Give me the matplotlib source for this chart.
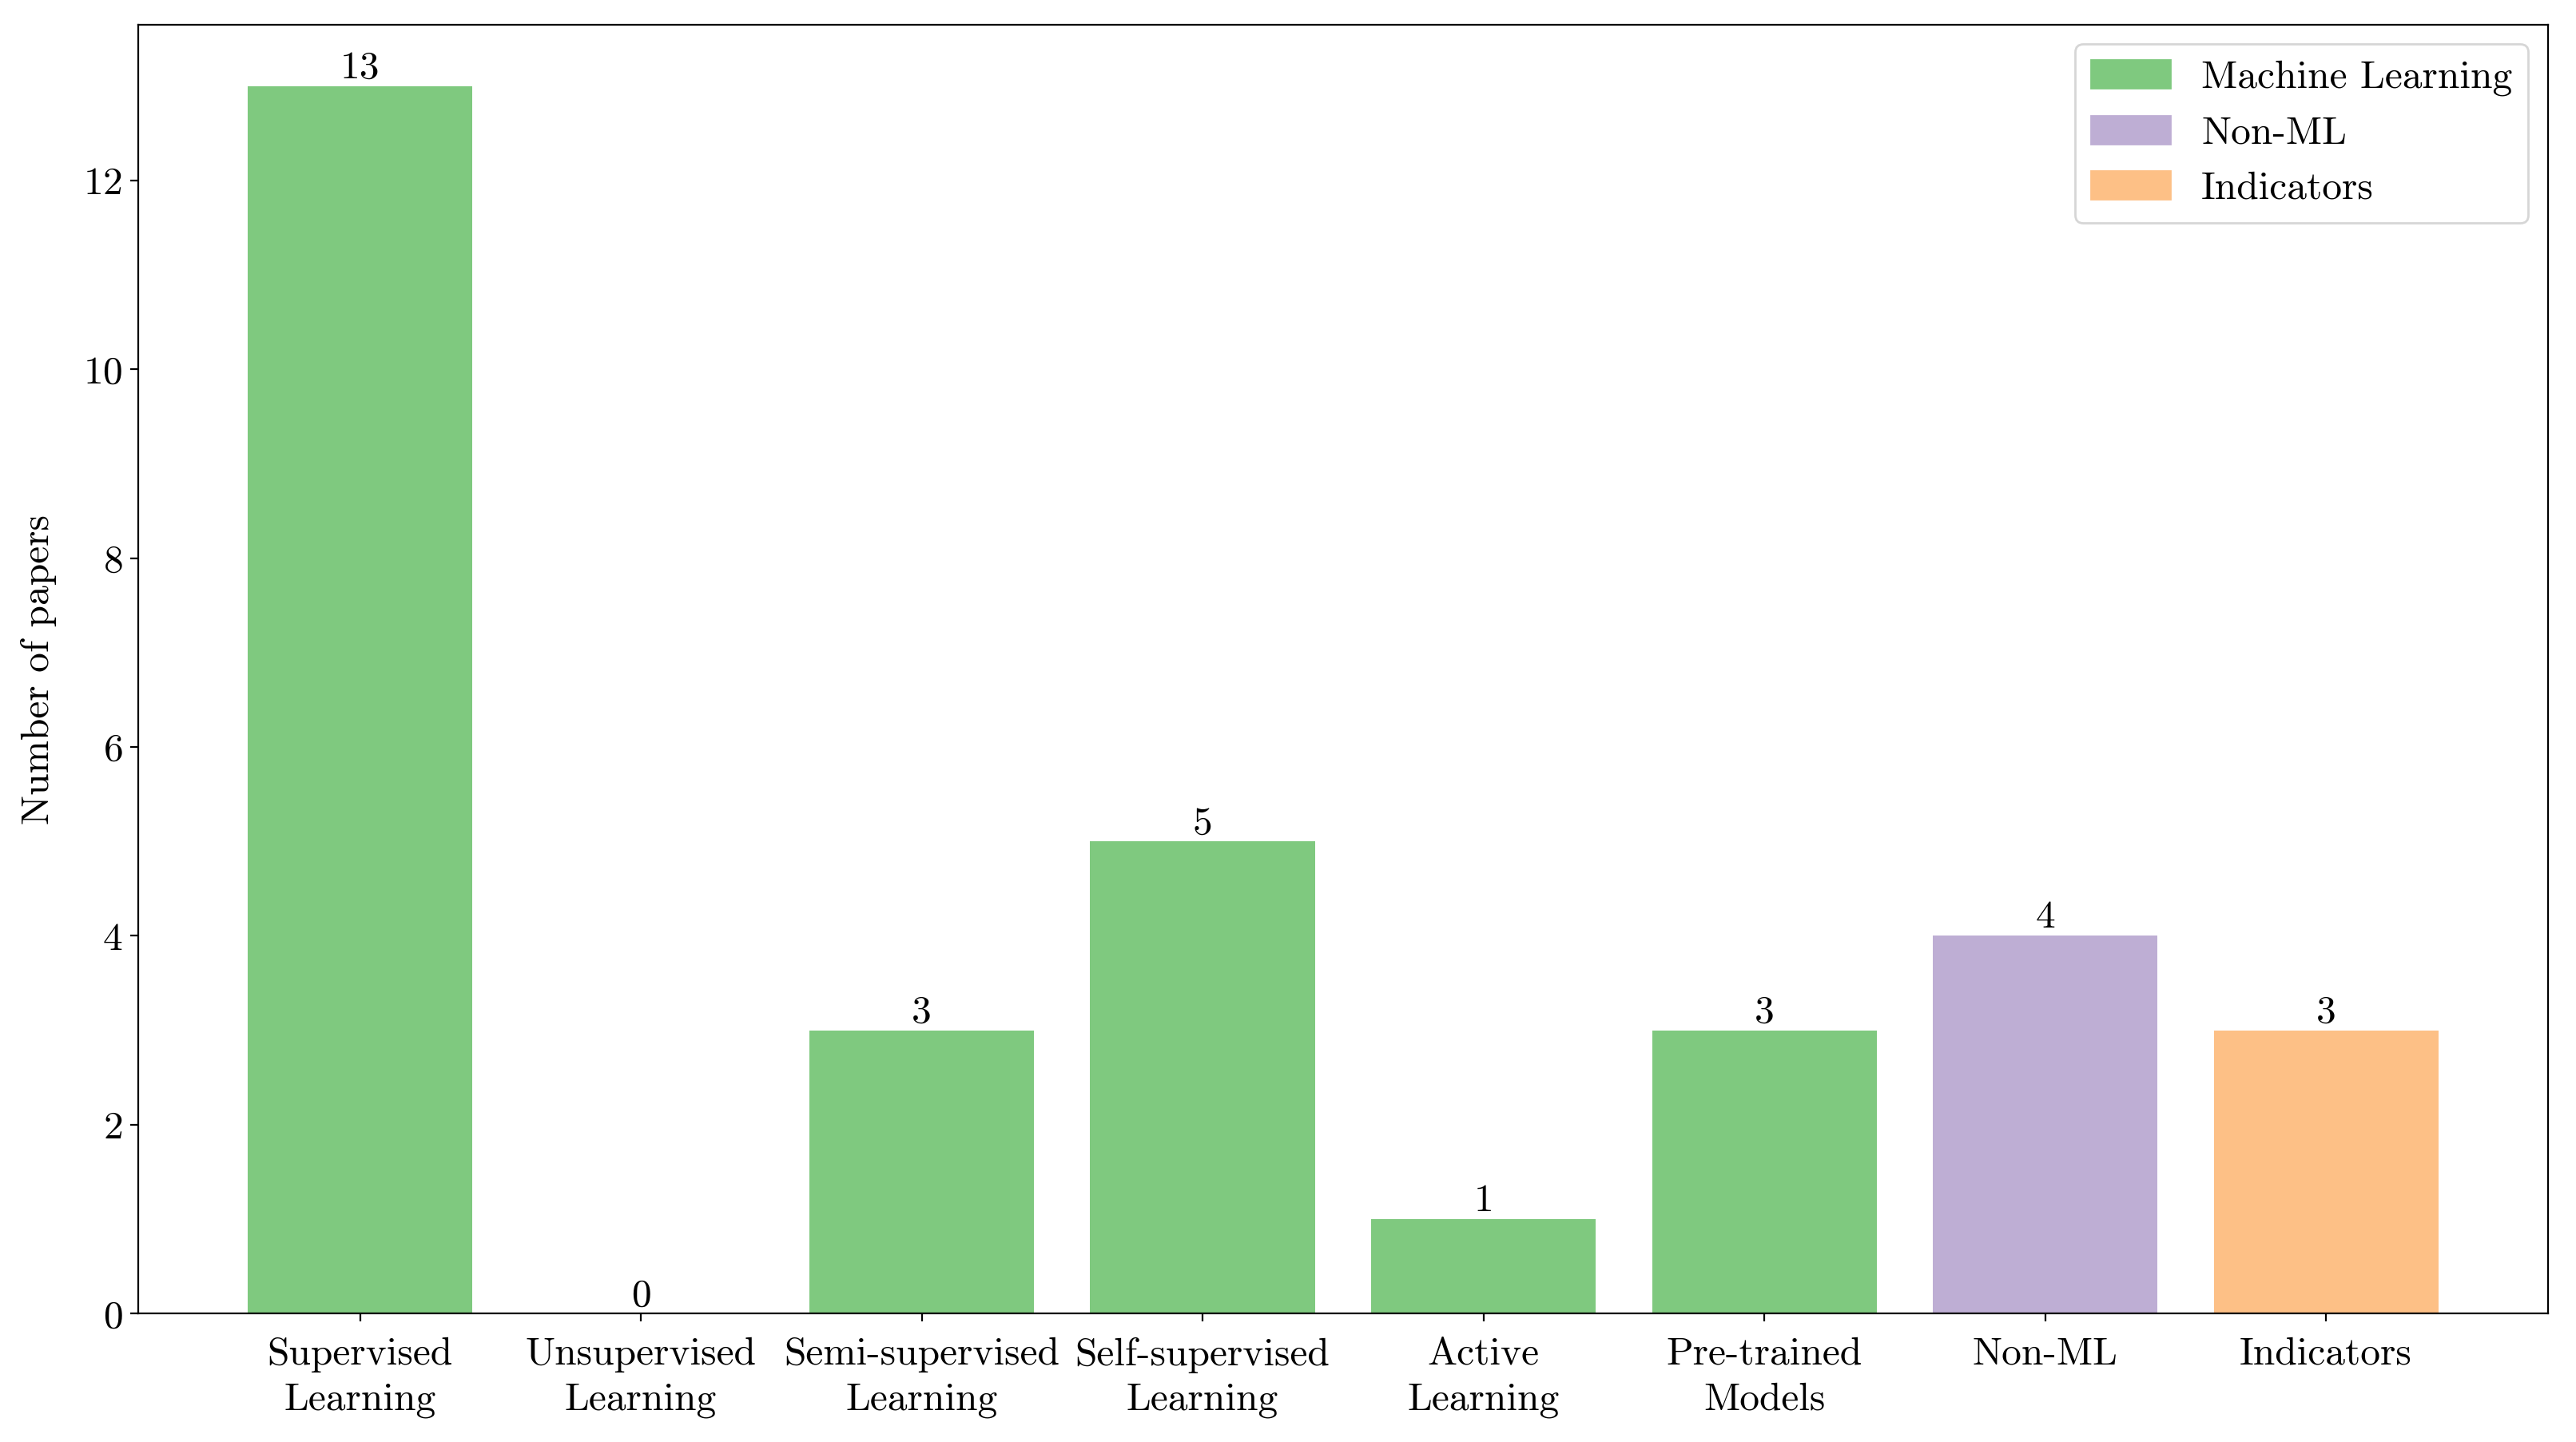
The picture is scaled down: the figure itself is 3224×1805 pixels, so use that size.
import matplotlib
matplotlib.use("Agg")
import matplotlib.pyplot as plt
from matplotlib.patches import Patch

plt.rcParams['font.family'] = ['cmr10', 'DejaVu Serif']
plt.rcParams['mathtext.fontset'] = 'cm'
plt.rcParams['axes.formatter.use_mathtext'] = True
plt.rcParams['font.size'] = 17.8

categories = ["Supervised\nLearning", "Unsupervised\nLearning", "Semi-supervised\nLearning",
              "Self-supervised\nLearning", "Active\nLearning", "Pre-trained\nModels",
              "Non-ML", "Indicators"]
values = [13, 0, 3, 5, 1, 3, 4, 3]
groups = ["Machine Learning"] * 6 + ["Non-ML", "Indicators"]
group_colors = {"Machine Learning": "#7fc97f", "Non-ML": "#beaed4", "Indicators": "#fdc086"}

fig = plt.figure(figsize=(16.12, 9.025), dpi=200)
ax = fig.add_axes([0.0536, 0.089, 0.9355, 0.894])
x = range(len(categories))
bars = ax.bar(x, values, width=0.8, color=[group_colors[g] for g in groups])
for b, v in zip(bars, values):
    ax.text(b.get_x() + b.get_width() / 2, v, str(v), ha='center', va='bottom', fontsize=17.8)
ax.set_xticks(list(x))
ax.set_xticklabels(categories, linespacing=1.35)
ax.tick_params(axis='x', pad=7)
ax.set_ylabel("Number of papers", labelpad=12)
handles = [Patch(color=c, label=g) for g, c in group_colors.items()]
ax.legend(handles=handles, loc='upper right', fontsize=17.8)
fig.savefig("out.png", dpi=200)
